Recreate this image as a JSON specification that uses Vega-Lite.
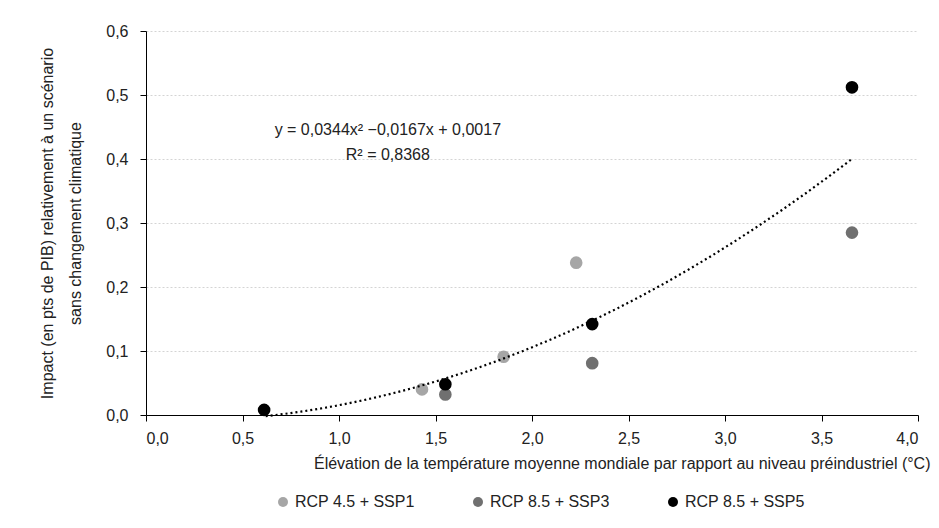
{
  "$schema": "https://vega.github.io/schema/vega-lite/v6.json",
  "autosize": {"type": "none"},
  "padding": {"left": 146, "top": 31, "right": 21, "bottom": 113},
  "width": 772,
  "height": 384,
  "background": "white",
  "config": {
    "font": "Liberation Sans",
    "view": {"stroke": null},
    "axis": {"labelFont": "Liberation Sans", "titleFont": "Liberation Sans", "labelFontSize": 16, "titleFontSize": 16, "titleFontWeight": "normal", "labelColor": "#222", "titleColor": "#222"}
  },
  "datasets": {
    "pts": [
      {"x": 1.43, "y": 0.040, "s": "RCP 4.5 + SSP1"},
      {"x": 1.853, "y": 0.091, "s": "RCP 4.5 + SSP1"},
      {"x": 2.229, "y": 0.238, "s": "RCP 4.5 + SSP1"},
      {"x": 1.551, "y": 0.032, "s": "RCP 8.5 + SSP3"},
      {"x": 2.312, "y": 0.081, "s": "RCP 8.5 + SSP3"},
      {"x": 3.658, "y": 0.285, "s": "RCP 8.5 + SSP3"},
      {"x": 0.612, "y": 0.008, "s": "RCP 8.5 + SSP5"},
      {"x": 1.551, "y": 0.048, "s": "RCP 8.5 + SSP5"},
      {"x": 2.312, "y": 0.142, "s": "RCP 8.5 + SSP5"},
      {"x": 3.658, "y": 0.512, "s": "RCP 8.5 + SSP5"}
    ],
    "notes": [
      {"x": 1.253, "y": 0.446, "t": "y = 0,0344x² −0,0167x + 0,0017"},
      {"x": 1.253, "y": 0.407, "t": "R² = 0,8368"}
    ]
  },
  "layer": [
    {
      "data": {"name": "pts"},
      "mark": {"type": "point", "filled": true, "opacity": 1, "size": 160},
      "encoding": {
        "x": {
          "field": "x", "type": "quantitative",
          "scale": {"domain": [0, 4], "nice": false, "zero": false},
          "axis": {
            "values": [0, 0.5, 1, 1.5, 2, 2.5, 3, 3.5, 4],
            "labelExpr": "replace(format(datum.value, '.1f'), '.', ',')",
            "title": "Élévation de la température moyenne mondiale par rapport au niveau préindustriel (°C)",
            "grid": false, "domainColor": "#000", "tickColor": "#000", "tickSize": 6,
            "labelPadding": 9, "titlePadding": 9, "titleAnchor": "end", "titleAlign": "right", "titleX": 784
          }
        },
        "y": {
          "field": "y", "type": "quantitative",
          "scale": {"domain": [0, 0.6], "nice": false},
          "axis": {
            "values": [0, 0.1, 0.2, 0.3, 0.4, 0.5, 0.6],
            "labelExpr": "replace(format(datum.value, '.1f'), '.', ',')",
            "title": ["Impact (en pts de PIB) relativement à un scénario", "sans changement climatique"],
            "titleLineHeight": 28,
            "grid": true, "gridColor": "#d4d4d4", "gridDash": [2, 2], "gridWidth": 1,
            "domainColor": "#000", "tickColor": "#000", "tickSize": 6,
            "labelPadding": 12, "titlePadding": 22
          }
        },
        "color": {
          "field": "s", "type": "nominal",
          "scale": {"domain": ["RCP 4.5 + SSP1", "RCP 8.5 + SSP3", "RCP 8.5 + SSP5"], "range": ["#a6a6a6", "#707070", "#000000"]},
          "legend": {
            "title": null, "orient": "none", "direction": "horizontal", "columns": 3,
            "legendX": 129, "legendY": 463,
            "symbolType": "circle", "symbolSize": 100, "symbolOpacity": 1,
            "labelFont": "Liberation Sans", "labelFontSize": 16, "labelColor": "#222",
            "columnPadding": 55, "labelOffset": 4
          }
        }
      }
    },
    {
      "data": {"name": "pts"},
      "transform": [
        {"regression": "y", "on": "x", "method": "poly", "order": 2, "extent": [0.62, 3.66]}
      ],
      "mark": {"type": "line", "color": "#000", "strokeWidth": 2.2, "strokeDash": [2, 3]},
      "encoding": {
        "x": {"field": "x", "type": "quantitative"},
        "y": {"field": "y", "type": "quantitative"}
      }
    },
    {
      "data": {"name": "notes"},
      "mark": {"type": "text", "font": "Liberation Sans", "fontSize": 16, "color": "#222", "align": "center", "baseline": "middle"},
      "encoding": {
        "x": {"field": "x", "type": "quantitative"},
        "y": {"field": "y", "type": "quantitative"},
        "text": {"field": "t"}
      }
    }
  ]
}
